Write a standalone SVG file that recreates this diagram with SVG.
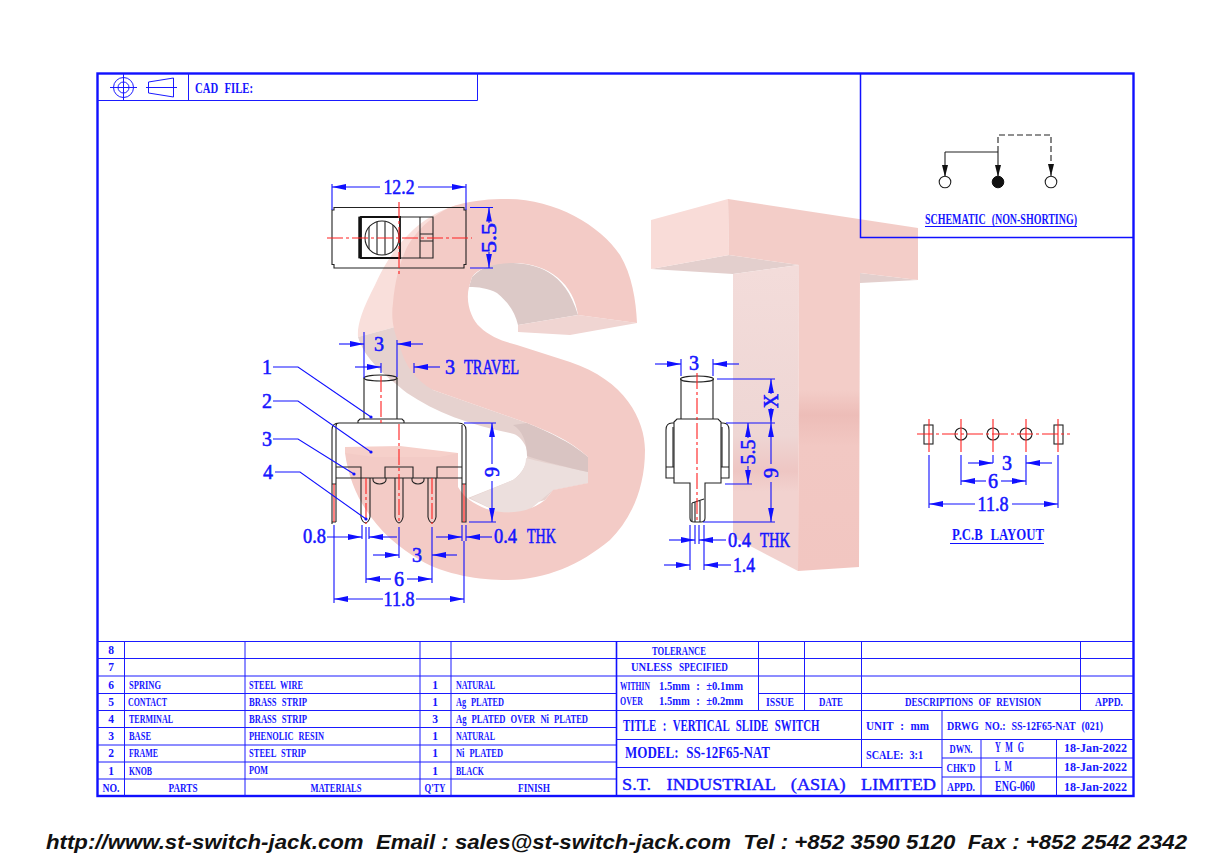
<svg xmlns="http://www.w3.org/2000/svg" width="1232" height="868" viewBox="0 0 1232 868">
<style>
text{font-family:"Liberation Serif","Times New Roman",serif;font-weight:700;fill:#1616ff;word-spacing:.35em}
.d{font-size:20px;font-weight:400;stroke:#1616ff;stroke-width:.55px}
.s{font-size:11.5px}
.m{text-anchor:middle}
.f{stroke:#1a1aff;stroke-width:1;fill:none}
.a{stroke:#1010ff;stroke-width:1.1;fill:none}
.k{stroke:#222;stroke-width:1.1;fill:none}
.kb{stroke:#111;stroke-width:1.8;fill:none}
.r{stroke:#ff2020;stroke-width:1.1;fill:none;stroke-dasharray:16 3 3 3}
.rd{stroke:#ff2020;stroke-width:1.1;fill:none}
</style>
<defs>
<marker id="ar" markerUnits="userSpaceOnUse" markerWidth="14" markerHeight="7" refX="14" refY="3.5" orient="auto"><path d="M0,3.5 L14,.6 V6.4 Z" fill="#1010ff" transform="matrix(-1 0 0 1 14 0)"/></marker>
<marker id="sa" markerUnits="userSpaceOnUse" markerWidth="12" markerHeight="7" refX="12" refY="3.5" orient="auto"><path d="M0,.5 L12,3.5 L0,6.5 Z" fill="#111"/></marker>
<marker id="dot" markerUnits="userSpaceOnUse" markerWidth="4" markerHeight="4" refX="2" refY="2"><circle cx="2" cy="2" r="1.6" fill="#1010ff"/></marker>
<linearGradient id="tg" gradientUnits="userSpaceOnUse" x1="0" y1="260" x2="0" y2="570"><stop offset="0" stop-color="#f3cdc8"/><stop offset=".42" stop-color="#f3cdc8"/><stop offset=".5" stop-color="#edbdb8"/><stop offset=".6" stop-color="#f2c8c3"/><stop offset="1" stop-color="#f2c6c1"/></linearGradient>
<linearGradient id="tl" gradientUnits="userSpaceOnUse" x1="0" y1="270" x2="0" y2="570"><stop offset="0" stop-color="#f3dcda"/><stop offset=".55" stop-color="#eed6d4"/><stop offset=".67" stop-color="#eec6c3"/><stop offset=".74" stop-color="#f2d2cf"/><stop offset="1" stop-color="#f2d2cf"/></linearGradient>
</defs>
<rect width="1232" height="868" fill="#fff"/>

<g id="watermark">
<path d="M457,205 C425,214 395,240 375,285 C362,310 357,325 358,337 L395,327 L400,300 L430,230 Z" fill="#f9dfdb"/>
<path d="M358,337 L395,327 L433,390 L527,423 L588,457 L588,483 L553,490 L545,500 L500,513 L468,498 L513,480 C527,470 530,455 525,445 C520,436 515,434 510,433 C470,425 435,412 407,393 C385,375 365,360 358,337 Z" fill="#e6d2cf"/>
<path d="M526,458 C540,462 570,468 588,472 L588,483 L553,490 L527,512 L500,513 L470,498 L513,480 C522,474 526,466 526,458 Z" fill="#ecdfdd"/>
<path d="M527,423 C550,432 575,445 588,457 L588,472 C570,468 545,462 527,456 C527,442 522,430 513,425 Z" fill="#d9c4c2"/>
<path d="M472,277 C485,264 500,262 513,263 C535,264 565,270 578,315 L518,325 C515,312 508,302 497,293 C488,288 478,287 469,287 Z" fill="#dcc9c7"/>
<path d="M518,325 L578,315 L637,323 L570,335 L518,332 Z" fill="#f0d5d2"/>
<path d="M507,199 C555,199 600,225 620,255 C632,275 636,300 637,323 L578,315 C574,285 550,263 513,263 C495,263 478,268 472,277 L469,287 C465,303 472,320 480,327 C490,337 505,342 517,345 L570,362 C625,380 645,420 645,450 C645,490 630,520 610,540 C580,565 545,580 507,580 C480,580 445,575 420,560 C385,540 352,505 345,453 L458,453 L458,487 C465,500 480,507 490,510 C510,515 530,512 545,500 L553,490 L588,483 L588,457 C570,440 545,430 527,423 L433,390 C415,380 405,365 400,347 C393,330 391,318 393,303 C395,280 400,262 407,247 C420,225 440,210 457,205 C475,200 490,199 507,199 Z" fill="#f3cbc6"/>
<path d="M345,447 L400,446 L458,453 L440,457 L374,457 L345,453 Z" fill="#f6d0ca"/>
<path d="M651,269 L729,255 L799,265 L733,274 Z" fill="#e3cfcd"/>
<path d="M860,273 L918,280 L860,283 Z" fill="#e3cfcd"/>
<path d="M733,274 L799,265 L798,571 L733,537 Z" fill="url(#tl)"/>
<path d="M651,220 L728,199 L729,255 L651,269 Z" fill="#f9dcd8"/>
<path d="M728,199 L918,228 V280 L860,273 L859,567 L798,571 L799,265 L729,255 Z" fill="url(#tg)"/>
</g>

<g id="frame">
<rect x="97.5" y="73.5" width="1036" height="722.5" fill="none" stroke="#1010ff" stroke-width="2.4"/>
<path class="f" d="M97,100.500H477.500V73M188.500,73V100"/>
<path d="M860.500,73V237.500H1134" fill="none" stroke="#1010ff" stroke-width="1.5"/>
</g>

<g id="cad-header">
<circle class="f" cx="123.500" cy="87.500" r="10"/><circle class="f" cx="123.500" cy="87.500" r="5.500"/>
<path class="f" d="M110,87.500H137M123.500,74V101"/>
<path class="f" d="M148.500,82L173.500,78V97L148.500,93ZM146,87.500H177"/>
<text x="195" y="93" style="font-size:15px" textLength="58" lengthAdjust="spacingAndGlyphs">CAD FILE:</text>
</g>

<g id="schematic">
<path class="k" d="M945,152H998M998,152V177" marker-end="url(#sa)"/>
<path class="k" d="M945,152V177" marker-end="url(#sa)"/>
<path class="k" d="M998,152V135H1051V176" stroke-dasharray="6 3" marker-end="url(#sa)"/>
<circle cx="945" cy="182" r="5.800" fill="#fff" stroke="#222" stroke-width="1.1"/>
<circle cx="998" cy="182" r="5.800" fill="#111" stroke="#111"/>
<circle cx="1051" cy="182" r="5.800" fill="#fff" stroke="#222" stroke-width="1.1"/>
<text x="925" y="224" style="font-size:14px" textLength="152" lengthAdjust="spacingAndGlyphs">SCHEMATIC (NON-SHORTING)</text>
<line class="a" x1="925" y1="226.500" x2="1077" y2="226.500"/>
</g>

<g id="top-view">
<path class="k" d="M334,207.500H464V210H466V264.500H464V268H334V264.500H332V210H334Z"/>
<path class="k" d="M359,217H433V258H359ZM420,217V258M420,234H433M420,241H433"/>
<path class="kb" d="M361,217H400V258H361ZM359.500,217V258"/>
<circle class="k" cx="382" cy="238" r="17"/>
<path class="k" d="M369,227V249M377,221.500V254.500M385,221.500V254.500M393,225V251"/>
<path class="r" d="M327,238H472M399,202V274"/>
</g>

<g id="front-view">
<path class="k" d="M364,378V419M397,378V419"/>
<ellipse class="k" cx="380.500" cy="378" rx="16.500" ry="3"/>
<path class="k" d="M358,423V421L360,419H402L404,421V423"/>
<path class="k" d="M332,524V430Q332,423 339,423H458Q466,423 466,430V522H462V425M336,522V426Q336,423 339,423M332,522H336M462,467H437V478M336,467H361V478M361,478H385V467H413V478H437M336,478H462M332,484H336M462,484H466"/>
<path class="k" d="M373,478V480A6.500,4 0 0 0 386,480V478M412,478V480A6,4 0 0 0 424,480V478"/>
<path class="k" d="M361,478V517Q362,522 365.500,523Q369,522 370,517V478M395,478V517Q396,522 399,523Q402,522 403,517V478M428,478V517Q429,522 432,523Q435,522 436,517V478"/>
<path class="r" d="M381,376V423M399,424V524M366,478V524M432,478V524"/>
<path class="rd" d="M334,484V522M464,484V522"/>
</g>

<g id="side-view">
<path class="k" d="M681,379V419M713,379V419"/>
<ellipse class="k" cx="697" cy="379" rx="16.500" ry="3"/>
<path class="k" d="M674,422L677,419H718L721,422V483H705V518Q705,522 701,522H694Q690,522 690,518V483H674Z"/>
<path class="k" d="M674,423H672Q666,423 666,430V478H674M721,423H723Q729,423 729,430V478H721M673,427V467M722,427V467M666,467H674M721,467H729"/>
<path class="k" d="M692,503L704,499M692,503V521M695,502V522M700,501V522"/>
<path class="r" d="M697,373V523"/>
</g>

<g id="pcb-layout">
<rect class="k" x="924" y="425" width="9" height="19"/>
<rect class="k" x="1054" y="425" width="9" height="19"/>
<circle class="k" cx="961" cy="434" r="6"/><circle class="k" cx="993" cy="434" r="6"/><circle class="k" cx="1026" cy="434" r="6"/>
<path class="r" d="M917,434H1070"/>
<path class="rd" d="M929,419V452M961,419V452M993,419V452M1026,419V452M1058,419V452"/>
<text x="952" y="540" style="font-size:17px" textLength="92" lengthAdjust="spacingAndGlyphs">P.C.B LAYOUT</text>
<line class="a" x1="950" y1="543.500" x2="1044" y2="543.500"/>
</g>

<g id="connectors">
<path class="a" d="M332,184V210M466,184V210M470,207.500H493M470,268H493"/>
<line class="a" x1="380" y1="187" x2="332" y2="187" marker-end="url(#ar)"/>
<line class="a" x1="418" y1="187" x2="466" y2="187" marker-end="url(#ar)"/>
<line class="a" x1="489" y1="223" x2="489" y2="207.500" marker-end="url(#ar)"/>
<line class="a" x1="489" y1="252" x2="489" y2="268" marker-end="url(#ar)"/>
<path class="a" d="M364,332V378M397,340V377M381,363V373M414,363V373"/>
<line class="a" x1="339" y1="344" x2="364" y2="344" marker-end="url(#ar)"/>
<line class="a" x1="423" y1="344" x2="397" y2="344" marker-end="url(#ar)"/>
<line class="a" x1="355" y1="367" x2="381" y2="367" marker-end="url(#ar)"/>
<line class="a" x1="440" y1="367" x2="414" y2="367" marker-end="url(#ar)"/>
<path class="a" d="M273,367H298L371,417" marker-end="url(#dot)"/>
<path class="a" d="M273,401H298L371,452" marker-end="url(#dot)"/>
<path class="a" d="M273,439H298L354,474" marker-end="url(#dot)"/>
<path class="a" d="M275,472H300L366,519" marker-end="url(#dot)"/>
<path class="a" d="M334,525V603M362,525V539M369,527V539M366,527V583M399,527V558M432,527V583M462,525V541M466,525V541M464,541V603M464,423H496M469,522H496"/>
<line class="a" x1="327" y1="537" x2="362" y2="537" marker-end="url(#ar)"/>
<line class="a" x1="397" y1="537" x2="369" y2="537" marker-end="url(#ar)"/>
<line class="a" x1="436" y1="537" x2="462" y2="537" marker-end="url(#ar)"/>
<line class="a" x1="492" y1="537" x2="466" y2="537" marker-end="url(#ar)"/>
<line class="a" x1="373" y1="555" x2="399" y2="555" marker-end="url(#ar)"/>
<line class="a" x1="457" y1="555" x2="432" y2="555" marker-end="url(#ar)"/>
<line class="a" x1="391" y1="579" x2="366" y2="579" marker-end="url(#ar)"/>
<line class="a" x1="407" y1="579" x2="432" y2="579" marker-end="url(#ar)"/>
<line class="a" x1="383" y1="599" x2="334" y2="599" marker-end="url(#ar)"/>
<line class="a" x1="416" y1="599" x2="464" y2="599" marker-end="url(#ar)"/>
<line class="a" x1="492" y1="464" x2="492" y2="423" marker-end="url(#ar)"/>
<line class="a" x1="492" y1="481" x2="492" y2="522" marker-end="url(#ar)"/>
<path class="a" d="M681,359V376M713,359V376M717,379H775M726,423H775M725,484H752M703,522H775M695,525V544M699,525V544M690,525V570M704,525V570"/>
<line class="a" x1="655" y1="364" x2="681" y2="364" marker-end="url(#ar)"/>
<line class="a" x1="739" y1="364" x2="713" y2="364" marker-end="url(#ar)"/>
<line class="a" x1="771" y1="394" x2="771" y2="379" marker-end="url(#ar)"/>
<line class="a" x1="771" y1="408" x2="771" y2="423" marker-end="url(#ar)"/>
<line class="a" x1="771" y1="464" x2="771" y2="423" marker-end="url(#ar)"/>
<line class="a" x1="771" y1="482" x2="771" y2="522" marker-end="url(#ar)"/>
<line class="a" x1="748" y1="438" x2="748" y2="423" marker-end="url(#ar)"/>
<line class="a" x1="748" y1="466" x2="748" y2="484" marker-end="url(#ar)"/>
<line class="a" x1="669" y1="540" x2="695" y2="540" marker-end="url(#ar)"/>
<line class="a" x1="726" y1="540" x2="699" y2="540" marker-end="url(#ar)"/>
<line class="a" x1="664" y1="565" x2="690" y2="565" marker-end="url(#ar)"/>
<line class="a" x1="731" y1="565" x2="704" y2="565" marker-end="url(#ar)"/>
<path class="a" d="M929,455V508M961,455V485M993,455V463M1026,455V485M1058,455V508"/>
<line class="a" x1="968" y1="463" x2="993" y2="463" marker-end="url(#ar)"/>
<line class="a" x1="1052" y1="463" x2="1026" y2="463" marker-end="url(#ar)"/>
<line class="a" x1="986" y1="481" x2="961" y2="481" marker-end="url(#ar)"/>
<line class="a" x1="1001" y1="481" x2="1026" y2="481" marker-end="url(#ar)"/>
<line class="a" x1="975" y1="504" x2="929" y2="504" marker-end="url(#ar)"/>
<line class="a" x1="1012" y1="504" x2="1058" y2="504" marker-end="url(#ar)"/>
</g>

<g id="dim-labels">
<text class="d m" x="399" y="194" textLength="31" lengthAdjust="spacingAndGlyphs">12.2</text>
<text class="d m" transform="translate(496,238) rotate(-90)" textLength="30" lengthAdjust="spacingAndGlyphs">5.5</text>
<text class="d m" x="379" y="351">3</text>
<text class="d" x="445" y="374">3</text>
<text class="d" x="464" y="374" textLength="55" lengthAdjust="spacingAndGlyphs">TRAVEL</text>
<text class="d m" x="267" y="374">1</text>
<text class="d m" x="267" y="408">2</text>
<text class="d m" x="267" y="446">3</text>
<text class="d m" x="268" y="479">4</text>
<text class="d" x="303" y="543" textLength="23" lengthAdjust="spacingAndGlyphs">0.8</text>
<text class="d m" x="417" y="562">3</text>
<text class="d m" x="399" y="586">6</text>
<text class="d m" x="399" y="606" textLength="31" lengthAdjust="spacingAndGlyphs">11.8</text>
<text class="d" x="494" y="543" textLength="23" lengthAdjust="spacingAndGlyphs">0.4</text>
<text class="d" x="527" y="543" textLength="29" lengthAdjust="spacingAndGlyphs">THK</text>
<text class="d m" transform="translate(499,472) rotate(-90)">9</text>
<text class="d m" x="694" y="370">3</text>
<text class="d m" transform="translate(778,401) rotate(-90)">X</text>
<text class="d m" transform="translate(778,473) rotate(-90)">9</text>
<text class="d m" transform="translate(755,452) rotate(-90)" textLength="25" lengthAdjust="spacingAndGlyphs">5.5</text>
<text class="d" x="728" y="547" textLength="23" lengthAdjust="spacingAndGlyphs">0.4</text>
<text class="d" x="760" y="547" textLength="30" lengthAdjust="spacingAndGlyphs">THK</text>
<text class="d" x="733" y="572" textLength="22" lengthAdjust="spacingAndGlyphs">1.4</text>
<text class="d m" x="1007" y="470">3</text>
<text class="d m" x="993" y="488">6</text>
<text class="d m" x="993" y="511" textLength="31" lengthAdjust="spacingAndGlyphs">11.8</text>
</g>

<g id="parts-table">
<path class="f" d="M97,641.500H1134M97,658.500H1134M97,676H1134M97,693.500H616M758,693.500H1134M97,710.500H1134M97,727.500H616M97,745H616M97,762H616M97,779H616"/>
<path class="f" d="M124.500,641V796M245,641V796M420,641V796M451,641V796"/>
<path d="M616.500,641V796" fill="none" stroke="#1010ff" stroke-width="1.6"/>
<text class="s m" x="111" y="654">8</text><text class="s m" x="111" y="671">7</text><text class="s m" x="111" y="689">6</text><text class="s m" x="111" y="706">5</text><text class="s m" x="111" y="723">4</text><text class="s m" x="111" y="740">3</text><text class="s m" x="111" y="757">2</text><text class="s m" x="111" y="775">1</text>
<text class="s m" x="111" y="792" textLength="17" lengthAdjust="spacingAndGlyphs">NO.</text>
<text class="s" x="129" y="689" textLength="32" lengthAdjust="spacingAndGlyphs">SPRING</text>
<text class="s" x="128" y="706" textLength="39" lengthAdjust="spacingAndGlyphs">CONTACT</text>
<text class="s" x="129" y="723" textLength="44" lengthAdjust="spacingAndGlyphs">TERMINAL</text>
<text class="s" x="129" y="740" textLength="22" lengthAdjust="spacingAndGlyphs">BASE</text>
<text class="s" x="129" y="757" textLength="29" lengthAdjust="spacingAndGlyphs">FRAME</text>
<text class="s" x="129" y="775" textLength="23" lengthAdjust="spacingAndGlyphs">KNOB</text>
<text class="s m" x="183" y="792" textLength="29" lengthAdjust="spacingAndGlyphs">PARTS</text>
<text class="s" x="249" y="689" textLength="54" lengthAdjust="spacingAndGlyphs">STEEL WIRE</text>
<text class="s" x="249" y="706" textLength="58" lengthAdjust="spacingAndGlyphs">BRASS STRIP</text>
<text class="s" x="249" y="723" textLength="58" lengthAdjust="spacingAndGlyphs">BRASS STRIP</text>
<text class="s" x="249" y="740" textLength="75" lengthAdjust="spacingAndGlyphs">PHENOLIC RESIN</text>
<text class="s" x="249" y="757" textLength="57" lengthAdjust="spacingAndGlyphs">STEEL STRIP</text>
<text class="s" x="249" y="774" textLength="19" lengthAdjust="spacingAndGlyphs">POM</text>
<text class="s m" x="336" y="792" textLength="51" lengthAdjust="spacingAndGlyphs">MATERIALS</text>
<text class="s m" x="435" y="689">1</text><text class="s m" x="435" y="706">1</text><text class="s m" x="435" y="723">3</text><text class="s m" x="435" y="740">1</text><text class="s m" x="435" y="757">1</text><text class="s m" x="435" y="775">1</text>
<text class="s m" x="435" y="792" textLength="21" lengthAdjust="spacingAndGlyphs">Q'TY</text>
<text class="s" x="456" y="689" textLength="39" lengthAdjust="spacingAndGlyphs">NATURAL</text>
<text class="s" x="456" y="706" textLength="48" lengthAdjust="spacingAndGlyphs">Ag PLATED</text>
<text class="s" x="456" y="723" textLength="132" lengthAdjust="spacingAndGlyphs">Ag PLATED OVER Ni PLATED</text>
<text class="s" x="456" y="740" textLength="39" lengthAdjust="spacingAndGlyphs">NATURAL</text>
<text class="s" x="456" y="757" textLength="47" lengthAdjust="spacingAndGlyphs">Ni PLATED</text>
<text class="s" x="456" y="775" textLength="28" lengthAdjust="spacingAndGlyphs">BLACK</text>
<text class="s m" x="534" y="792" textLength="32" lengthAdjust="spacingAndGlyphs">FINISH</text>
</g>

<g id="title-block">
<path class="f" d="M758.500,641V710M804.500,641V710M861.500,641V767M1080.500,641V710M942,710V796M981,739V796M1056.500,739V796M616,739.500H942M942,739.500H1134M616,767.500H942M942,758H1134M942,777H1134"/>
<text class="s m" x="679" y="655" textLength="54" lengthAdjust="spacingAndGlyphs">TOLERANCE</text>
<text class="s" x="631" y="671" textLength="41" lengthAdjust="spacingAndGlyphs">UNLESS</text>
<text class="s" x="679" y="671" textLength="49" lengthAdjust="spacingAndGlyphs">SPECIFIED</text>
<text class="s" transform="translate(620,690) scale(.66,1)">WITHIN</text>
<text class="s" x="659" y="690" textLength="84" lengthAdjust="spacingAndGlyphs">1.5mm : ±0.1mm</text>
<text class="s" transform="translate(620,705) scale(.69,1)">OVER</text>
<text class="s" x="659" y="705" textLength="84" lengthAdjust="spacingAndGlyphs">1.5mm : ±0.2mm</text>
<text class="s m" x="780" y="706" textLength="28" lengthAdjust="spacingAndGlyphs">ISSUE</text>
<text class="s m" x="831" y="706" textLength="24" lengthAdjust="spacingAndGlyphs">DATE</text>
<text class="s m" x="973" y="706" textLength="136" lengthAdjust="spacingAndGlyphs">DESCRIPTIONS OF REVISION</text>
<text class="s m" x="1109" y="706" textLength="28" lengthAdjust="spacingAndGlyphs">APPD.</text>
<text transform="translate(623,731) scale(.68,1)" style="font-size:16px">TITLE : VERTICAL SLIDE SWITCH</text>
<text x="866" y="730" style="font-size:12.5px" textLength="63" lengthAdjust="spacingAndGlyphs">UNIT : mm</text>
<text x="947" y="730" style="font-size:12.5px" textLength="156" lengthAdjust="spacingAndGlyphs">DRWG NO.: SS-12F65-NAT (021)</text>
<text x="625" y="758" style="font-size:16px" textLength="145" lengthAdjust="spacingAndGlyphs">MODEL: SS-12F65-NAT</text>
<text x="866" y="759" style="font-size:12.5px" textLength="57" lengthAdjust="spacingAndGlyphs">SCALE: 3:1</text>
<text x="622" y="790" style="font-size:17px;font-weight:400;stroke:#1616ff;stroke-width:.4px;word-spacing:.6em" textLength="314" lengthAdjust="spacingAndGlyphs">S.T. INDUSTRIAL (ASIA) LIMITED</text>
<text class="s m" x="961" y="753" textLength="23" lengthAdjust="spacingAndGlyphs">DWN.</text>
<text class="s m" x="961" y="772" textLength="29" lengthAdjust="spacingAndGlyphs">CHK'D</text>
<text class="s m" x="961" y="791" textLength="28" lengthAdjust="spacingAndGlyphs">APPD.</text>
<text x="995" y="752" style="font-size:14px" textLength="29" lengthAdjust="spacingAndGlyphs">Y M G</text>
<text x="995" y="771" style="font-size:14px" textLength="17" lengthAdjust="spacingAndGlyphs">L M</text>
<text x="995" y="791" style="font-size:14px;word-spacing:0" textLength="40" lengthAdjust="spacingAndGlyphs">ENG-060</text>
<text class="s" x="1064" y="752" textLength="63" lengthAdjust="spacingAndGlyphs">18-Jan-2022</text>
<text class="s" x="1064" y="771" textLength="63" lengthAdjust="spacingAndGlyphs">18-Jan-2022</text>
<text class="s" x="1064" y="791" textLength="63" lengthAdjust="spacingAndGlyphs">18-Jan-2022</text>
</g>

<text id="footer" x="46" y="849" xml:space="preserve" textLength="1141" lengthAdjust="spacingAndGlyphs" style="font-family:'Liberation Sans',Arial,sans-serif;font-weight:700;font-style:italic;font-size:21px;fill:#111;word-spacing:0">http://www.st-switch-jack.com  Email : sales@st-switch-jack.com  Tel : +852 3590 5120  Fax : +852 2542 2342</text>
</svg>
